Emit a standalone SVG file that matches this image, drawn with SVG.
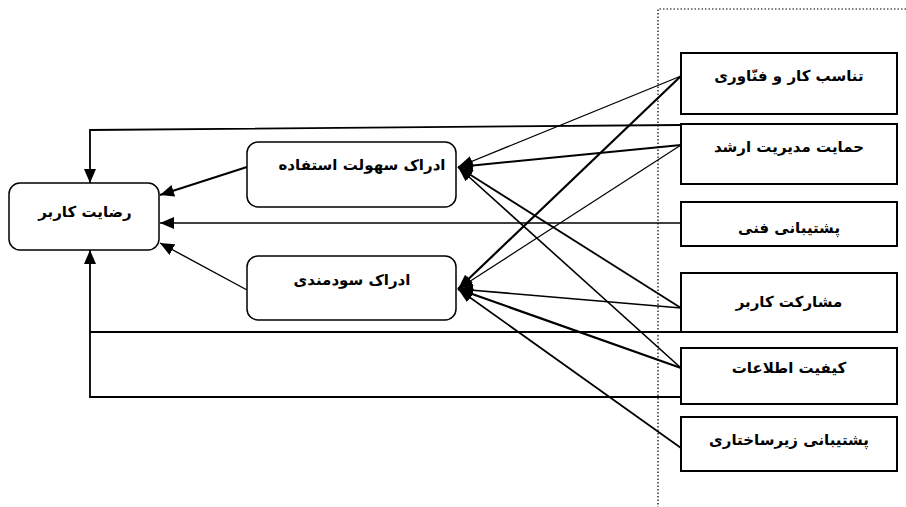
<svg xmlns="http://www.w3.org/2000/svg" width="906" height="507" viewBox="0 0 906 507">
<style>
.rb{fill:#fff;stroke:#000;stroke-width:2}
.rr{fill:#fff;stroke:#000;stroke-width:1.5}
.t{font-family:"DejaVu Sans",sans-serif;font-weight:bold;font-size:15px;fill:#000;text-anchor:middle;dominant-baseline:central}
.c{fill:none;stroke:#000}
.dot{fill:none;stroke:#000;stroke-width:1.2;stroke-dasharray:1.5 2}
</style>
<defs>
<marker id="ah" viewBox="0 0 14 12" refX="14" refY="6" markerWidth="14" markerHeight="12" orient="auto" markerUnits="userSpaceOnUse">
<path d="M0,0 L14,6 L0,12 z" fill="#000"/>
</marker>
<marker id="ah2" viewBox="0 0 15 12" refX="15" refY="6" markerWidth="15" markerHeight="12" orient="auto" markerUnits="userSpaceOnUse">
<path d="M0,0.5 L15,6 L0,11.5 z" fill="#000"/>
</marker>
</defs>
<rect width="906" height="507" fill="#fff"/>
<path class="dot" d="M906,9 H658 V507"/>
<g id="connectors">
<polyline class="c" stroke-width="1.8" points="681,125 90,130 90,183" marker-end="url(#ah)"/>
<line class="c" stroke-width="1.6" x1="681" y1="223" x2="160" y2="223" marker-end="url(#ah)"/>
<line class="c" stroke-width="1.8" x1="681" y1="332" x2="90" y2="332"/>
<polyline class="c" stroke-width="1.8" points="681,397 90,397 90,250" marker-end="url(#ah)"/>
<line class="c" stroke-width="2" x1="247" y1="167" x2="160" y2="195" marker-end="url(#ah)"/>
<line class="c" stroke-width="1.4" x1="247" y1="290" x2="160" y2="243" marker-end="url(#ah)"/>
<line class="c" stroke-width="1.3" x1="681" y1="76" x2="458" y2="167" marker-end="url(#ah2)"/>
<line class="c" stroke-width="2" x1="681" y1="145" x2="458" y2="167" marker-end="url(#ah2)"/>
<line class="c" stroke-width="1.8" x1="681" y1="308" x2="458" y2="167" marker-end="url(#ah2)"/>
<line class="c" stroke-width="1.6" x1="681" y1="368" x2="458" y2="167" marker-end="url(#ah2)"/>
<line class="c" stroke-width="2.2" x1="681" y1="76" x2="458" y2="289" marker-end="url(#ah2)"/>
<line class="c" stroke-width="1.2" x1="681" y1="145" x2="458" y2="289" marker-end="url(#ah2)"/>
<line class="c" stroke-width="1.7" x1="681" y1="308" x2="458" y2="289" marker-end="url(#ah2)"/>
<line class="c" stroke-width="2.2" x1="681" y1="368" x2="458" y2="289" marker-end="url(#ah2)"/>
<line class="c" stroke-width="1.7" x1="681" y1="448" x2="458" y2="289" marker-end="url(#ah2)"/>
</g>
<g id="satisfaction">
<rect class="rr" x="9" y="183" width="150" height="67" rx="11"/>
<text class="t" x="85" y="212">رضایت کاربر</text>
</g>
<g id="ease">
<rect class="rr" x="247" y="142" width="209" height="65" rx="11"/>
<text class="t" x="362" y="165">ادراک سهولت استفاده</text>
</g>
<g id="usefulness">
<rect class="rr" x="247" y="256" width="209" height="64" rx="11"/>
<text class="t" x="352" y="280">ادراک سودمندی</text>
</g>
<g id="fit">
<rect class="rb" x="681" y="53" width="216" height="61"/>
<text class="t" x="789" y="76">تناسب کار و فنّاوری</text>
</g>
<g id="management">
<rect class="rb" x="681" y="124" width="216" height="60"/>
<text class="t" x="789" y="147">حمایت مدیریت ارشد</text>
</g>
<g id="tech">
<rect class="rb" x="681" y="202" width="216" height="44"/>
<text class="t" x="789" y="228">پشتیبانی فنی</text>
</g>
<g id="participation">
<rect class="rb" x="681" y="273" width="216" height="59"/>
<text class="t" x="789" y="302">مشارکت کاربر</text>
</g>
<g id="quality">
<rect class="rb" x="681" y="348" width="216" height="56"/>
<text class="t" x="789" y="368">کیفیت اطلاعات</text>
</g>
<g id="infra">
<rect class="rb" x="681" y="417" width="216" height="54"/>
<text class="t" x="789" y="440">پشتیبانی زیرساختاری</text>
</g>
</svg>
